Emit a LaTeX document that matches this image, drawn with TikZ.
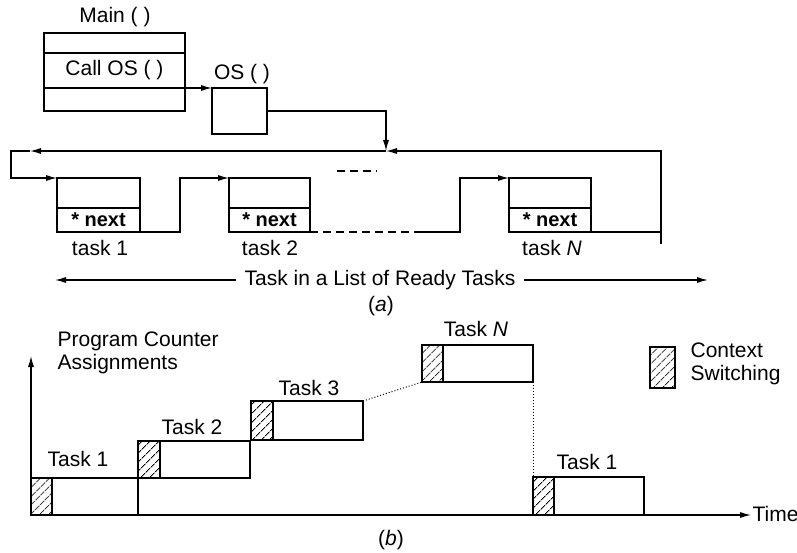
\documentclass[tikz,border=0pt]{standalone}
\usepackage{fontspec}
\setmainfont{Liberation Sans}
\usetikzlibrary{arrows.meta,patterns.meta}
\begin{document}
\begin{tikzpicture}[x=1pt,y=-1pt,
  line width=1.2pt,
  every node/.style={font=\fontsize{21}{23}\selectfont},
  box/.style={draw,rectangle,anchor=north west,inner sep=0pt,outer sep=0pt},
  hatchbox/.style={box,pattern={Lines[angle=45,distance=6.5pt,line width=1pt]}},
  lbl/.style={inner sep=0pt},
  arr/.style={-{Latex[length=11pt,width=6pt]}},
  sdash/.style={dash pattern=on 8pt off 5pt}]
\useasboundingbox (0,0) rectangle (797,553);
% ---------------- part (a) ----------------
\node[lbl] (mainlbl) at (115,17) {Main ( )};
\node[box,minimum width=141pt,minimum height=20pt] (m1) at (44,33) {};
\node[box,minimum width=141pt,minimum height=35pt] (m2) at (44,53) {Call OS ( )};
\node[box,minimum width=141pt,minimum height=23pt] (m3) at (44,88) {};
\node[lbl] (oslbl) at (242,74) {OS ( )};
\node[box,minimum width=55pt,minimum height=46pt] (os) at (212,88) {};
\draw[arr] (m3.north east) -- (os.north west);
\coordinate (j) at (386,151);
\coordinate (rb) at (661,244);
\coordinate (la) at (30,151);
\coordinate (lc) at (11,151);
\draw[arr] (os.east) -| (j);
\draw[arr] (rb) |- (j);
\draw[arr] (j) -- (la);
% tasks
\node[box,minimum width=83pt,minimum height=30pt] (t1a) at (57,178) {};
\node[box,minimum width=83pt,minimum height=24pt,font=\fontsize{20}{23}\selectfont\bfseries] (t1b) at (57,208) {* next};
\node[box,minimum width=81pt,minimum height=30pt] (t2a) at (229,178) {};
\node[box,minimum width=81pt,minimum height=24pt,font=\fontsize{20}{23}\selectfont\bfseries] (t2b) at (229,208) {* next};
\node[box,minimum width=82pt,minimum height=30pt] (tna) at (509,178) {};
\node[box,minimum width=82pt,minimum height=24pt,font=\fontsize{20}{23}\selectfont\bfseries] (tnb) at (509,208) {* next};
\draw[arr] (la) -- (lc) |- (t1a.north west);
\coordinate (k1) at (180,232);
\draw[arr] (t1b.south east) -- (k1) |- (t2a.north west);
\coordinate (k2a) at (420,232);
\coordinate (k2) at (460,232);
\draw[sdash] (t2b.south east) -- (k2a);
\draw[arr] (k2a) -- (k2) |- (tna.north west);
\coordinate (rj) at (661,232);
\draw (tnb.south east) -- (rj);
\coordinate (d1) at (337,171);
\coordinate (d2) at (377,171);
\draw[sdash] (d1) -- (d2);
\node[lbl] (tl1) at (100,248) {task 1};
\node[lbl] (tl2) at (270,248) {task 2};
\node[lbl] (tln) at (552,248) {task \textit{N}};
\node[lbl] (listlbl) at (380,280) {Task in a List of Ready Tasks};
\coordinate (al) at (55,280);
\coordinate (ar) at (708,280);
\draw[arr] ([xshift=-8pt]listlbl.west) -- (al);
\draw[arr] ([xshift=8pt]listlbl.east) -- (ar);
\node[lbl] (capa) at (381,306) {(\textit{a})};
% ---------------- part (b) ----------------
\coordinate (o) at (31,515);
\coordinate (ytop) at (31,356);
\coordinate (xend) at (751,515);
\draw[arr] (o) -- (ytop);
\draw[arr] (o) -- (xend);
\node[lbl,anchor=west] (time) at (752,514) {Time};
\node[lbl,anchor=north west,align=left] (pca) at (57,331) {Program Counter\\Assignments};
% bars
\node[hatchbox,minimum width=21pt,minimum height=37pt] (h1) at (31,478) {};
\node[box,minimum width=86pt,minimum height=37pt] (b1) at (52,478) {};
\node[hatchbox,minimum width=22pt,minimum height=37pt] (h2) at (138,441) {};
\node[box,minimum width=90pt,minimum height=37pt] (b2) at (160,441) {};
\node[hatchbox,minimum width=22pt,minimum height=39pt] (h3) at (251,401) {};
\node[box,minimum width=90pt,minimum height=39pt] (b3) at (273,401) {};
\node[hatchbox,minimum width=21pt,minimum height=37pt] (hn) at (422,345) {};
\node[box,minimum width=90pt,minimum height=37pt] (bn) at (443,345) {};
\node[hatchbox,minimum width=21pt,minimum height=38pt] (h1b) at (533,477) {};
\node[box,minimum width=90pt,minimum height=38pt] (b1b) at (554,477) {};
\draw[dotted,line width=1pt] (b3.north east) -- (hn.south west);
\draw[dotted,line width=1pt] (bn.south east) -- (h1b.north west);
\node[lbl] (lt1) at (78,459) {Task 1};
\node[lbl] (lt2) at (192,427) {Task 2};
\node[lbl] (lt3) at (309,388) {Task 3};
\node[lbl] (ltn) at (476,329) {Task \textit{N}};
\node[lbl] (lt1b) at (587,462) {Task 1};
% legend
\node[hatchbox,minimum width=25pt,minimum height=41pt] (lg) at (650,347) {};
\node[lbl,anchor=north west,align=left] (lgt) at (690,342) {Context\\Switching};
\node[lbl] (capb) at (391,540) {(\textit{b})};
\end{tikzpicture}
\end{document}
